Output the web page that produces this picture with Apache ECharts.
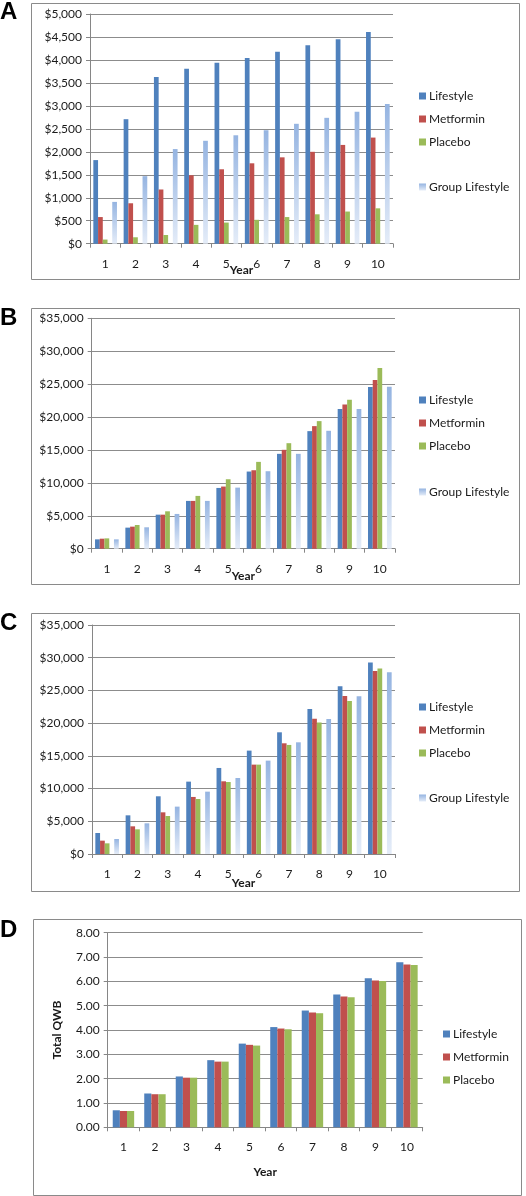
<!DOCTYPE html>
<html>
<head>
<meta charset="utf-8">
<script src="https://cdn.jsdelivr.net/npm/echarts@6/dist/echarts.min.js"></script>
<style>
html,body{margin:0;padding:0;background:#fff;}
#c{width:526px;height:1196px;}
</style>
</head>
<body>
<div id="c"></div>
<script>
// ---------- data ----------
const years = ['1','2','3','4','5','6','7','8','9','10'];

// Panel A
const aLifestyle = [1820, 2710, 3630, 3810, 3940, 4040, 4180, 4320, 4450, 4610];
const aMetformin = [580, 880, 1180, 1490, 1620, 1750, 1880, 2000, 2150, 2310];
const aPlacebo   = [90, 140, 190, 410, 460, 520, 580, 640, 700, 770];
const aGroup     = [910, 1470, 2060, 2240, 2360, 2470, 2610, 2740, 2870, 3040];

// Panel B
const bLifestyle = [1420, 3200, 5170, 7260, 9230, 11720, 14410, 17860, 21210, 24560];
const bMetformin = [1520, 3350, 5170, 7260, 9440, 11920, 15020, 18620, 21920, 25620];
const bPlacebo   = [1570, 3600, 5680, 8020, 10550, 13190, 16030, 19380, 22630, 27450];
const bGroup     = [1420, 3250, 5280, 7260, 9280, 11770, 14410, 17910, 21210, 24610];

// Panel C
const cLifestyle = [3210, 5910, 8820, 11060, 13150, 15800, 18600, 22170, 25640, 29260];
const cMetformin = [2040, 4230, 6370, 8720, 11110, 13660, 16920, 20690, 24160, 27980];
const cPlacebo   = [1630, 3770, 5810, 8410, 11000, 13660, 16670, 20080, 23390, 28340];
const cGroup     = [2290, 4690, 7240, 9530, 11620, 14270, 17070, 20640, 24110, 27780];

// Panel D
const dLifestyle = [0.70, 1.39, 2.09, 2.76, 3.44, 4.12, 4.80, 5.46, 6.13, 6.79];
const dMetformin = [0.67, 1.36, 2.04, 2.70, 3.39, 4.06, 4.72, 5.38, 6.04, 6.69];
const dPlacebo   = [0.67, 1.36, 2.04, 2.70, 3.36, 4.03, 4.69, 5.35, 6.01, 6.67];

const empty = years.map(() => null);

// ---------- styles ----------
const FONT = 'Lato';
const TXT = '#1a1a1a';
const C_L = '#4F81BD', C_M = '#C0504D', C_P = '#9BBB59';
const groupGrad = {type:'linear', x:0, y:0, x2:0, y2:1,
  colorStops:[{offset:0, color:'#95B4E1'},{offset:1, color:'#E4ECF8'}]};

const grids = [
  {left:90,  width:303, top:14,    height:229.7},
  {left:91.7,width:303.3, top:318.3, height:230.4},
  {left:92,  width:303, top:625,   height:229},
  {left:107.7,width:315, top:932.7, height:194.6}
];

function money(v){ return '$' + v.toLocaleString('en-US'); }

const nameGaps = [20, 21, 23, 39];
const xAxes = grids.map((g,i) => ({
  type:'category', gridIndex:i, data:years,
  name:'Year', nameLocation:'middle', nameGap:nameGaps[i], nameMoveOverlap:false,
  nameTextStyle:{fontFamily:FONT, fontSize:12, fontWeight:'bold', color:TXT},
  axisLine:{lineStyle:{color:'#868686', width:1}},
  axisTick:{show:true, length:4, lineStyle:{color:'#868686'}},
  axisLabel:{margin:14, fontFamily:FONT, fontSize:12, color:TXT},
  splitLine:{show:false}
}));

const yAxes = [
  {gridIndex:0, min:0, max:5000, interval:500, fmt:money},
  {gridIndex:1, min:0, max:35000, interval:5000, fmt:money},
  {gridIndex:2, min:0, max:35000, interval:5000, fmt:money},
  {gridIndex:3, min:0, max:8, interval:1, fmt:v => v.toFixed(2)}
].map((a,i) => ({
  type:'value', gridIndex:a.gridIndex, min:a.min, max:a.max, interval:a.interval,
  name: i===3 ? 'Total QWB' : '', nameLocation:'middle', nameGap:45, nameRotate:90,
  nameMoveOverlap:false,
  nameTextStyle:{fontFamily:FONT, fontSize:12, fontWeight:'bold', color:TXT},
  axisLine:{show:true, lineStyle:{color:'#868686', width:1}},
  axisTick:{show:true, length:4, lineStyle:{color:'#868686'}},
  axisLabel:{margin:8, fontFamily:FONT, fontSize:12, color:TXT, formatter:a.fmt},
  splitLine:{show:true, lineStyle:{color:'#8C8C8C', width:1}}
}));

function bar(name, data, idx, color, catGap){
  return {type:'bar', name:name, data:data, xAxisIndex:idx, yAxisIndex:idx,
    barGap:'0%', barCategoryGap:catGap, itemStyle:{color:color},
    emphasis:{disabled:true}, animation:false};
}

const series = [];
[[aLifestyle,aMetformin,aPlacebo,aGroup],
 [bLifestyle,bMetformin,bPlacebo,bGroup],
 [cLifestyle,cMetformin,cPlacebo,cGroup]].forEach((s,i) => {
  series.push(bar('Lifestyle', s[0], i, C_L, '22%'));
  series.push(bar('Metformin', s[1], i, C_M, '22%'));
  series.push(bar('Placebo', s[2], i, C_P, '22%'));
  series.push(bar('gap', empty, i, 'transparent', '22%'));
  series.push(bar('Group Lifestyle', s[3], i, groupGrad, '22%'));
});
series.push(bar('Lifestyle', dLifestyle, 3, C_L, '32%'));
series.push(bar('Metformin', dMetformin, 3, C_M, '32%'));
series.push(bar('Placebo', dPlacebo, 3, C_P, '32%'));

function legend(data, left, top){
  return {data:data, orient:'vertical', left:left, top:top, padding:0,
    icon:'rect', itemWidth:7, itemHeight:7, itemGap:9,
    selectedMode:false,
    textStyle:{fontFamily:FONT, fontSize:12, color:TXT, lineHeight:14, padding:[0,0,0,-2]}};
}
const three = ['Lifestyle','Metformin','Placebo'];
const legends = [
  legend(three, 419, 89), legend(['Group Lifestyle'], 419, 180),
  legend(three, 419, 393), legend(['Group Lifestyle'], 419, 485),
  legend(three, 419, 700), legend(['Group Lifestyle'], 419, 791),
  legend(three, 443, 1027)
];

const letters = [['A',0],['B',306.5],['C',611.5],['D',918]].map(l => ({
  text:l[0], left:0, top:l[1], padding:0,
  textStyle:{fontFamily:'Liberation Sans', fontSize:24, fontWeight:'bold', color:'#000'}
}));

const boxes = [[31,3,488,276],[31,308,488,276],[31,613,488,278],[33,919,488,276]].map(b => ({
  type:'rect', shape:{x:b[0]+0.5, y:b[1]+0.5, width:b[2], height:b[3]},
  style:{fill:null, stroke:'#8A8A8A', lineWidth:1}, silent:true
}));

const chart = echarts.init(document.getElementById('c'), null, {renderer:'canvas'});
chart.setOption({
  animation:false,
  backgroundColor:'#fff',
  title:letters,
  grid:grids,
  xAxis:xAxes,
  yAxis:yAxes,
  legend:legends,
  series:series,
  graphic:boxes
});
</script>
</body>
</html>
